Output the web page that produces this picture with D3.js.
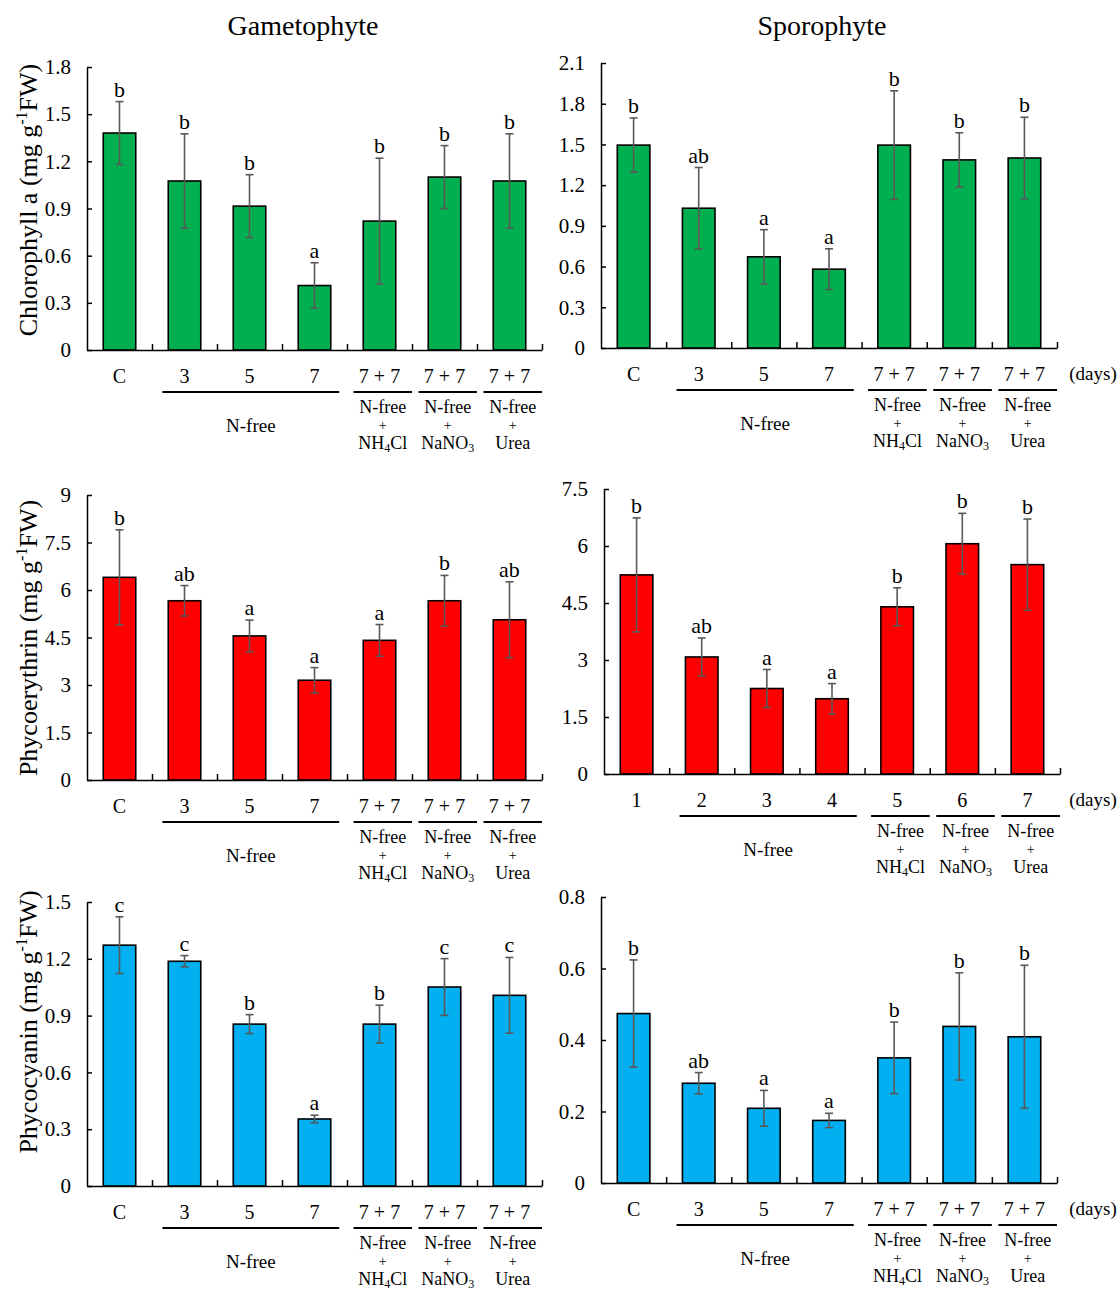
<!DOCTYPE html>
<html>
<head>
<meta charset="utf-8">
<script src="https://cdn.jsdelivr.net/npm/d3@7"></script>
<style>
  body { margin: 0; background: #fff; }
  text { font-family: "Liberation Serif", "Times New Roman", serif; fill: #000; }
</style>
</head>
<body>
<script>
// ---------- DATA ----------
const catsStd = ["C", "3", "5", "7", "7 + 7", "7 + 7", "7 + 7"];
const catsNum = ["1", "2", "3", "4", "5", "6", "7"];

const chlGamMean = [1.38, 1.075, 0.915, 0.41, 0.82, 1.10, 1.075];
const chlGamErr  = [0.20, 0.30, 0.20, 0.145, 0.40, 0.20, 0.30];
const chlGamLet  = ["b", "b", "b", "a", "b", "b", "b"];

const chlSpoMean = [1.495, 1.03, 0.672, 0.581, 1.495, 1.386, 1.40];
const chlSpoErr  = [0.20, 0.30, 0.20, 0.15, 0.40, 0.20, 0.30];
const chlSpoLet  = ["b", "ab", "a", "a", "b", "b", "b"];

const peGamMean = [6.40, 5.66, 4.55, 3.15, 4.41, 5.66, 5.06];
const peGamErr  = [1.50, 0.48, 0.50, 0.40, 0.50, 0.80, 1.20];
const peGamLet  = ["b", "ab", "a", "a", "a", "b", "ab"];

const peSpoMean = [5.24, 3.08, 2.25, 1.98, 4.40, 6.06, 5.51];
const peSpoErr  = [1.50, 0.50, 0.50, 0.40, 0.50, 0.80, 1.20];
const peSpoLet  = ["b", "ab", "a", "a", "b", "b", "b"];

const pcGamMean = [1.272, 1.187, 0.855, 0.354, 0.855, 1.051, 1.007];
const pcGamErr  = [0.15, 0.03, 0.05, 0.02, 0.10, 0.15, 0.20];
const pcGamLet  = ["c", "c", "b", "a", "b", "c", "c"];

const pcSpoMean = [0.474, 0.279, 0.209, 0.175, 0.350, 0.438, 0.409];
const pcSpoErr  = [0.15, 0.03, 0.05, 0.02, 0.10, 0.15, 0.20];
const pcSpoLet  = ["b", "ab", "a", "a", "b", "b", "b"];

const chlGamTicks = [0, 0.3, 0.6, 0.9, 1.2, 1.5, 1.8];
const chlGamTickLabels = ["0", "0.3", "0.6", "0.9", "1.2", "1.5", "1.8"];
const chlSpoTicks = [0, 0.3, 0.6, 0.9, 1.2, 1.5, 1.8, 2.1];
const chlSpoTickLabels = ["0", "0.3", "0.6", "0.9", "1.2", "1.5", "1.8", "2.1"];
const peGamTicks = [0, 1.5, 3, 4.5, 6, 7.5, 9];
const peGamTickLabels = ["0", "1.5", "3", "4.5", "6", "7.5", "9"];
const peSpoTicks = [0, 1.5, 3, 4.5, 6, 7.5];
const peSpoTickLabels = ["0", "1.5", "3", "4.5", "6", "7.5"];
const pcGamTicks = [0, 0.3, 0.6, 0.9, 1.2, 1.5];
const pcGamTickLabels = ["0", "0.3", "0.6", "0.9", "1.2", "1.5"];
const pcSpoTicks = [0, 0.2, 0.4, 0.6, 0.8];
const pcSpoTickLabels = ["0", "0.2", "0.4", "0.6", "0.8"];

const columnTitles = ["Gametophyte", "Sporophyte"];
const groupMain = "N-free";
const subGroups = [["N-free", "+", "NH", "4", "Cl"], ["N-free", "+", "NaNO", "3", ""], ["N-free", "+", "Urea", "", ""]];
const daysLabel = "(days)";

// ---------- DRAWING ----------
const svg = d3.select("body").append("svg").attr("width", 1120).attr("height", 1292);

svg.selectAll("text.coltitle").data(columnTitles).enter().append("text")
  .attr("class", "coltitle")
  .attr("x", (d, i) => i === 0 ? 303 : 822).attr("y", 35)
  .attr("text-anchor", "middle").attr("font-size", 28).text(d => d);

function panel(o) {
  const g = svg.append("g");
  const n = o.cats.length;
  const x = d3.scaleBand().domain(d3.range(n)).range([o.x0, o.x1]).paddingInner(0.5).paddingOuter(0.25);
  const step = (o.x1 - o.x0) / n;
  const y = d3.scaleLinear().domain([0, o.max]).range([o.yBot, o.yTop]);

  // bars
  g.selectAll("rect.bar").data(o.means).enter().append("rect")
    .attr("x", (d, i) => x(i)).attr("width", x.bandwidth())
    .attr("y", d => y(d)).attr("height", d => o.yBot - y(d))
    .attr("fill", o.color).attr("stroke", "#000").attr("stroke-width", 1.6);

  // error bars
  const eb = g.selectAll("g.err").data(o.means).enter().append("g").attr("class", "err")
    .attr("stroke", "#595959").attr("stroke-width", 1.6);
  const cx = i => x(i) + x.bandwidth() / 2;
  eb.append("line").attr("x1", (d, i) => cx(i)).attr("x2", (d, i) => cx(i))
    .attr("y1", (d, i) => y(d + o.errs[i])).attr("y2", (d, i) => y(d - o.errs[i]));
  eb.append("line").attr("x1", (d, i) => cx(i) - 4).attr("x2", (d, i) => cx(i) + 4)
    .attr("y1", (d, i) => y(d + o.errs[i])).attr("y2", (d, i) => y(d + o.errs[i]));
  eb.append("line").attr("x1", (d, i) => cx(i) - 4).attr("x2", (d, i) => cx(i) + 4)
    .attr("y1", (d, i) => y(d - o.errs[i])).attr("y2", (d, i) => y(d - o.errs[i]));

  // significance letters
  g.selectAll("text.let").data(o.letters).enter().append("text")
    .attr("x", (d, i) => cx(i)).attr("y", (d, i) => y(o.means[i] + o.errs[i]) - 5)
    .attr("text-anchor", "middle").attr("font-size", 22).text(d => d);

  // y axis
  const ya = g.append("g").attr("transform", `translate(${o.x0},0)`)
    .call(d3.axisLeft(y).tickValues(o.ticks).tickSize(-5).tickSizeOuter(0).tickPadding(16)
      .tickFormat((d, i) => o.tickLabels[i]));
  ya.selectAll("text").attr("font-size", 21).attr("fill", "#000");
  ya.selectAll("line, path").attr("stroke", "#000").attr("stroke-width", 1.5);

  // x axis (ticks at category boundaries, inside)
  const xl = d3.scaleLinear().domain([0, n]).range([o.x0, o.x1]);
  const xa = g.append("g").attr("transform", `translate(0,${o.yBot})`)
    .call(d3.axisBottom(xl).tickValues(d3.range(1, n + 1)).tickSize(-6).tickSizeOuter(0).tickFormat(""));
  xa.selectAll("line, path").attr("stroke", "#000").attr("stroke-width", 1.5);

  // category labels
  g.selectAll("text.cat").data(o.cats).enter().append("text")
    .attr("x", (d, i) => cx(i)).attr("y", o.yBot + 33)
    .attr("text-anchor", "middle").attr("font-size", 20).text(d => d);

  // group lines
  const lineY = o.yBot + 42;
  const ns = o.x0 + step * 1.16, ne = o.x0 + step * 3.88;
  g.append("line").attr("x1", ns).attr("x2", ne).attr("y1", lineY).attr("y2", lineY)
    .attr("stroke", "#000").attr("stroke-width", 2);
  g.append("text").attr("x", (ns + ne) / 2).attr("y", o.yBot + 82)
    .attr("text-anchor", "middle").attr("font-size", 19).text(groupMain);

  subGroups.forEach((sg, k) => {
    const s = o.x0 + step * (4 + k) + step * 0.1, e = o.x0 + step * (5 + k);
    const m = (s + e) / 2;
    g.append("line").attr("x1", s).attr("x2", e).attr("y1", lineY).attr("y2", lineY)
      .attr("stroke", "#000").attr("stroke-width", 2);
    g.append("text").attr("x", m).attr("y", o.yBot + 63).attr("text-anchor", "middle")
      .attr("font-size", 18).text(sg[0]);
    g.append("text").attr("x", m).attr("y", o.yBot + 80).attr("text-anchor", "middle")
      .attr("font-size", 14).text(sg[1]);
    const t = g.append("text").attr("x", m).attr("y", o.yBot + 99).attr("text-anchor", "middle")
      .attr("font-size", 18);
    t.append("tspan").text(sg[2]);
    if (sg[3]) t.append("tspan").attr("font-size", 12).attr("dy", 3).text(sg[3]);
    if (sg[4]) t.append("tspan").attr("dy", -3).text(sg[4]);
  });

  if (o.days) {
    g.append("text").attr("x", 1093).attr("y", o.yBot + 32).attr("text-anchor", "middle")
      .attr("font-size", 19).text(daysLabel);
  }

  if (o.ytitle) {
    const t = g.append("text").attr("transform", `translate(37,${o.ytitleY}) rotate(-90)`)
      .attr("text-anchor", "middle").attr("font-size", 26);
    t.append("tspan").text(o.ytitle + " (mg g");
    t.append("tspan").attr("font-size", 16).attr("dy", -10).text("-1");
    t.append("tspan").attr("dy", 10).text("FW)");
  }
}

panel({ x0: 87, x1: 542, yTop: 67, yBot: 350, max: 1.8, ticks: chlGamTicks, tickLabels: chlGamTickLabels,
  cats: catsStd, means: chlGamMean, errs: chlGamErr, letters: chlGamLet, color: "#00B050",
  ytitle: "Chlorophyll a", ytitleY: 200 });
panel({ x0: 601, x1: 1057, yTop: 63, yBot: 348, max: 2.1, ticks: chlSpoTicks, tickLabels: chlSpoTickLabels,
  cats: catsStd, means: chlSpoMean, errs: chlSpoErr, letters: chlSpoLet, color: "#00B050", days: true });
panel({ x0: 87, x1: 542, yTop: 495, yBot: 780, max: 9, ticks: peGamTicks, tickLabels: peGamTickLabels,
  cats: catsStd, means: peGamMean, errs: peGamErr, letters: peGamLet, color: "#FF0000",
  ytitle: "Phycoerythrin", ytitleY: 638 });
panel({ x0: 604, x1: 1060, yTop: 489, yBot: 774, max: 7.5, ticks: peSpoTicks, tickLabels: peSpoTickLabels,
  cats: catsNum, means: peSpoMean, errs: peSpoErr, letters: peSpoLet, color: "#FF0000", days: true });
panel({ x0: 87, x1: 542, yTop: 902, yBot: 1186, max: 1.5, ticks: pcGamTicks, tickLabels: pcGamTickLabels,
  cats: catsStd, means: pcGamMean, errs: pcGamErr, letters: pcGamLet, color: "#00B0F0",
  ytitle: "Phycocyanin", ytitleY: 1022 });
panel({ x0: 601, x1: 1057, yTop: 897, yBot: 1183, max: 0.8, ticks: pcSpoTicks, tickLabels: pcSpoTickLabels,
  cats: catsStd, means: pcSpoMean, errs: pcSpoErr, letters: pcSpoLet, color: "#00B0F0", days: true });
</script>
</body>
</html>
